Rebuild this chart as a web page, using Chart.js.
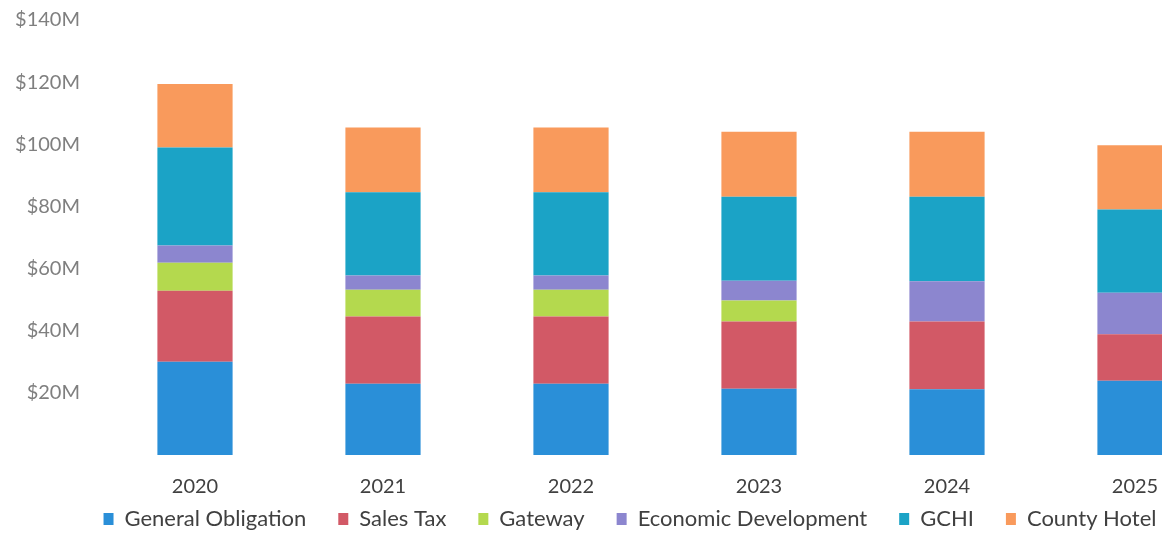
<!DOCTYPE html>
<html>
<head>
<meta charset="utf-8">
<script src="https://cdn.jsdelivr.net/npm/chart.js@4"></script>
<style>
  html, body { margin: 0; padding: 0; background: #fff; overflow: hidden; }
  #wrap { width: 1260px; height: 540px; position: relative; }
</style>
</head>
<body>
<div id="wrap"><canvas id="debtChart"></canvas></div>
<script>
// 연도별 부채 구성 ($M)
const years = ["2020", "2021", "2022", "2023", "2024", "2025"];
const generalObligation = [30.0, 22.9, 22.9, 21.3, 21.2, 23.9];
const salesTax = [22.9, 21.7, 21.7, 21.7, 21.8, 15.0];
const gateway = [9.0, 8.6, 8.6, 6.7, 0, 0];
const economicDevelopment = [5.5, 4.6, 4.6, 6.4, 12.9, 13.3];
const gchi = [31.6, 26.8, 26.8, 27.0, 27.2, 26.8];
const countyHotel = [20.4, 20.8, 20.8, 20.9, 20.9, 20.7];
const yTicks = [20, 40, 60, 80, 100, 120, 140];

const ctx = document.getElementById("debtChart").getContext("2d");

function series(label, data, color) {
  return {
    label: label,
    data: data,
    backgroundColor: color,
    borderWidth: 0,
    barPercentage: 0.8,
    categoryPercentage: 0.5,
  };
}

const debtChart = new Chart(ctx, {
  type: "bar",
  data: {
    labels: years,
    datasets: [
      series("General Obligation", generalObligation, "#2a8fd8"),
      series("Sales Tax", salesTax, "#d25966"),
      series("Gateway", gateway, "#b4d94e"),
      series("Economic Development", economicDevelopment, "#8c86cf"),
      series("GCHI", gchi, "#1ba3c6"),
      series("County Hotel", countyHotel, "#f99a5c"),
    ],
  },
  options: {
    responsive: true,
    maintainAspectRatio: false,
    animation: false,
    layout: { padding: { left: 0, right: 0, top: 20, bottom: 0 } },
    plugins: {
      tooltip: { enabled: false },
      legend: {
        position: "bottom",
        labels: {
          boxWidth: 10,
          boxHeight: 12,
          padding: 32,
          color: "#404040",
          font: { family: "Lato", size: 22 },
        },
      },
    },
    scales: {
      x: {
        stacked: true,
        grid: { display: false, drawTicks: false },
        border: { display: false },
        // 라벨 영역 높이 고정, 오른쪽 여백은 범례와 별도로
        afterFit: (scale) => {
          scale.height = 21;
          scale.paddingLeft = 0;
          scale.paddingRight = 31;
        },
        ticks: {
          color: "#404040",
          mirror: true,
          padding: -44,
          font: { family: "Lato", size: 20 },
        },
      },
      y: {
        stacked: true,
        min: 0,
        max: 140,
        grid: { display: false, drawTicks: false },
        border: { display: false },
        afterFit: (scale) => {
          scale.width = 101;
          scale.paddingTop = 0;
          scale.paddingBottom = 0;
        },
        afterBuildTicks: (scale) => {
          scale.ticks = [0].concat(yTicks).map((v) => ({ value: v }));
        },
        ticks: {
          color: "#7f7f7f",
          padding: 21,
          font: { family: "Lato", size: 20 },
          callback: (v) => (v === 0 ? "" : "$" + v + "M"),
        },
      },
    },
  },
});
</script>
</body>
</html>
